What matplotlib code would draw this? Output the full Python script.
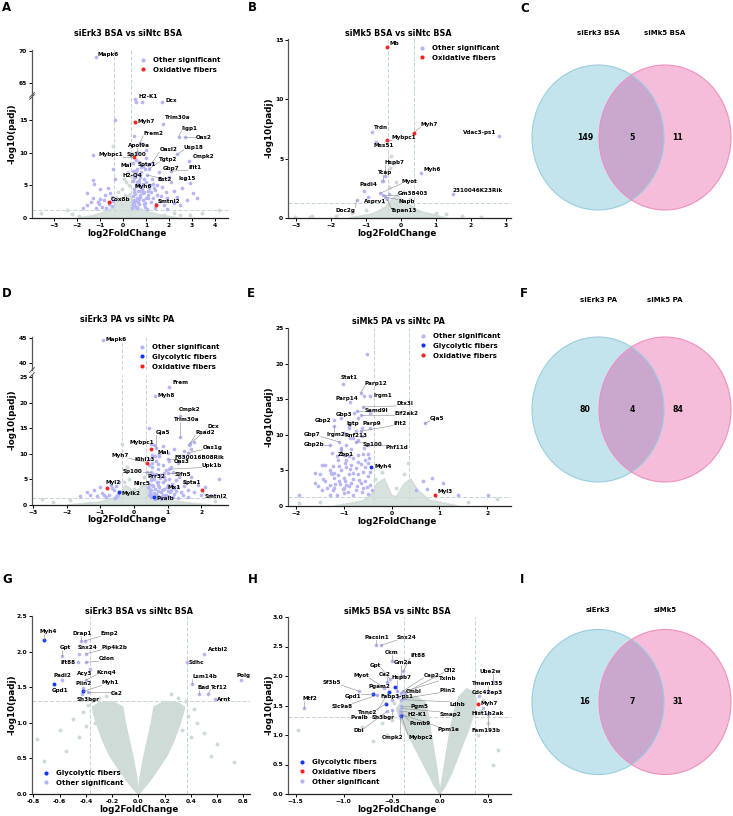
import math
import matplotlib
matplotlib.use('Agg')
import matplotlib.pyplot as plt
from matplotlib.patches import Ellipse
from matplotlib.lines import Line2D

plt.rcParams['font.family'] = ['DejaVu Sans']
plt.rcParams['font.weight'] = 'bold'
plt.rcParams['axes.labelweight'] = 'bold'

# ---------------------------------------------------------------- data
# Panel A : siErk3 BSA vs siNtc BSA   (name, log2FC, -log10 padj, class)
A_GENES = [
    ('Mapk6', -1.17, 69.1, 'o'), ('H2-K1', 0.52, 18.3, 'o'), ('Dcx', 1.71, 17.8, 'o'),
    ('Myh7', 0.52, 14.8, 'x'), ('Trim30a', 1.75, 14.5, 'o'), ('Iigp1', 2.43, 12.5, 'o'),
    ('Oas2', 2.72, 12.5, 'o'), ('Frem2', 0.74, 11.5, 'o'), ('Apol9a', 0.62, 10.0, 'o'),
    ('Oasl2', 1.25, 8.4, 'o'), ('Usp18', 2.37, 9.8, 'o'), ('Mybpc1', 0.48, 9.3, 'x'),
    ('Sp100', 0.56, 8.9, 'o'), ('Tgtp2', 1.15, 7.6, 'o'), ('Cmpk2', 2.87, 8.8, 'o'),
    ('Mal', 0.45, 7.3, 'o'), ('Spta1', 0.8, 7.8, 'o'), ('Gbp7', 1.55, 7.0, 'o'),
    ('Ifit1', 2.1, 7.2, 'o'), ('H2-Q4', 0.75, 6.3, 'o'), ('Bst2', 1.05, 6.6, 'o'),
    ('Isg15', 2.9, 5.4, 'o'), ('Myh6', 0.6, 5.5, 'o'), ('Cox8b', -0.61, 2.5, 'x'),
    ('Smtnl2', 1.42, 2.0, 'x'),
]
A_OTHER_X = [0.81, 0.57, 0.48, -0.35, -1.29, -0.42, -0.35, -1.29, -1.25, -1.55, -1.29, -1.0, -1.03,
             -0.74, -0.5, -0.57, -1.0, -0.83, -1.55, -1.17, -1.75, -0.45, -0.62, -0.9, -1.4,
             2.55, 3.06, 3.2, 2.2, 1.9, 2.7, 2.1, 1.6, 1.4, 1.1, 0.86, 0.95, 0.7, 0.52, 0.45, 0.74,
             0.96, 1.3, 1.6, 1.9, 2.2, 2.35, 1.4, 0.5, 0.6, 0.65, 0.8, 0.9, 1.0, 1.2, 1.25, 0.55,
             0.7, 1.0, 1.1, 0.9, 0.5, 0.6, 0.75, 1.15, 1.5, 1.7, 1.8, 2.0, 2.5, 2.8, 0.42, 0.6, 1.0,
             0.4, 1.05, 1.3, 1.5, 0.85, 0.55, 0.45, 0.62, 0.7, 0.88, 1.1, 0.5, 0.68, 0.58, 0.78,
             0.95, 1.2, 0.42, 0.52,
             0.45, 0.55, 0.65, 0.72, 0.82, 0.9, 1.0, 1.08, 1.18, 1.35, 0.48, 0.58, 0.68, 0.78,
             0.88, 0.5, 0.62, 1.45, 1.65, 1.85, -0.48, -0.66, -0.8, -1.1, -0.55]
A_OTHER_Y = [17.9, 17.8, 12.6, 15.0, 9.7, 7.6, 6.0, 5.85, 5.2, 3.8, 3.1, 2.85, 2.1,
             1.5, 1.8, 3.8, 4.4, 2.8, 2.05, 1.5, 1.6, 2.6, 2.2, 1.7, 2.5,
             4.6, 3.8, 3.1, 4.1, 3.1, 6.1, 5.5, 6.2, 4.3, 3.5, 2.7, 1.7, 2.2, 3.7, 5.7, 6.6,
             7.6, 5.3, 2.6, 1.4, 2.3, 3.2, 1.5, 2.1, 3.0, 4.2, 4.8, 4.0, 5.6, 2.4, 6.0, 6.8,
             8.6, 9.2, 8.2, 6.0, 4.5, 1.6, 3.3, 4.6, 3.6, 4.8, 2.0, 6.3, 2.0, 2.7, 8.5, 10.2, 10.5,
             1.5, 1.4, 3.0, 5.1, 5.2, 2.6, 3.4, 4.9, 5.4, 3.8, 3.0, 2.7, 2.9, 7.2, 4.1,
             2.3, 4.0, 2.4, 6.3,
             2.0, 1.7, 2.5, 3.6, 4.4, 2.2, 3.0, 4.2, 5.0, 4.6, 4.0, 5.0, 5.8, 7.0,
             8.0, 6.2, 7.6, 2.2, 3.4, 4.0, 3.2, 4.6, 3.6, 2.4, 2.4]
A_NS_X = [-3.56, -2.45, 4.2, 3.45, 2.9, 2.5, -1.9, -2.2, 1.8, 2.2, -0.05, 0.05, 0.2, -0.2, 0.3,
          -0.43, 0.1, -0.1, 0.25, 0.35, 0.38, -0.3, 0.15]
A_NS_Y = [0.7, 1.23, 1.2, 0.7, 0.5, 0.4, 0.3, 0.6, 0.5, 0.8, 4.5, 6.0, 7.0, 4.0, 8.5,
          11.0, 3.5, 2.8, 5.0, 6.5, 9.8, 3.2, 5.5]
A_CLOUD_X = [-1.9, -1.3, -0.8, -0.45, -0.25, -0.1, 0.0, 0.15, 0.3, 0.4, 0.6, 1.0, 1.6, 2.4]
A_CLOUD_Y = [0.0, 0.4, 0.9, 1.6, 2.6, 3.2, 1.8, 3.0, 3.8, 3.0, 1.8, 1.0, 0.5, 0.0]

# Panel B : siMk5 BSA vs siNtc BSA
B_GENES = [
    ('Mb', -0.41, 14.36, 'x'), ('Trdn', -0.84, 7.23, 'o'), ('Mybpc1', -0.41, 6.6, 'x'),
    ('Myh7', 0.38, 7.18, 'x'), ('Mss51', -0.72, 6.4, 'o'), ('Vdac3-ps1', 2.8, 6.87, 'o'),
    ('Hspb7', -0.46, 3.5, 'o'), ('Tcap', -0.52, 3.1, 'o'), ('Myh6', 0.57, 3.8, 'o'),
    ('Myot', -0.6, 2.07, 'o'), ('Padi4', -1.05, 2.26, 'o'), ('Gm38403', -0.5, 1.95, 'o'),
    ('Asprv1', -0.93, 1.79, 'o'), ('Napb', -0.45, 1.75, 'o'), ('Doc2g', -1.27, 1.51, 'o'),
    ('Tspan13', -0.4, 1.6, 'o'), ('2310046K23Rik', 1.5, 1.98, 'o'),
]
B_OTHER_X = [-0.55, -0.35]
B_OTHER_Y = [3.15, 2.0]
B_NS_X = [-3.03, -2.6, -2.55, -1.85, -1.4, 1.3, 1.75, 2.3, -0.3, -0.2, -0.28, 0.5, 1.0, -1.0,
          -0.15, 0.1, -0.35, 0.25]
B_NS_Y = [0.05, 0.1, 0.2, 0.15, 0.4, 0.3, 0.15, 0.1, 4.2, 4.6, 5.2, 0.6, 0.4, 0.7,
          3.0, 2.2, 2.6, 1.6]
B_CLOUD_X = [-1.5, -0.8, -0.45, -0.25, -0.1, 0.05, 0.2, 0.5, 0.9, 1.3]
B_CLOUD_Y = [0.0, 0.35, 0.9, 1.6, 2.0, 1.4, 1.2, 0.6, 0.3, 0.0]

# Panel D : siErk3 PA vs siNtc PA
D_GENES = [
    ('Mapk6', -0.93, 44.7, 'o'), ('Frem', 1.05, 23.1, 'o'), ('Myh8', 0.61, 21.3, 'o'),
    ('Cmpk2', 1.37, 17.4, 'o'), ('Trim30a', 1.37, 13.3, 'o'), ('Gja5', 0.66, 11.1, 'o'),
    ('Dcx', 1.67, 12.0, 'o'), ('Rsad2', 1.64, 11.7, 'o'), ('Oas1g', 1.62, 10.2, 'o'),
    ('Mybpc1', 0.51, 10.9, 'x'), ('Myh7', 0.4, 8.3, 'x'), ('Klhl13', 0.55, 8.2, 'o'),
    ('Mal', 0.62, 9.5, 'o'), ('F830016B08Rik', 1.0, 8.9, 'o'), ('Oas3', 1.05, 8.5, 'o'),
    ('Upk1b', 1.05, 7.0, 'o'), ('Sp100', 0.5, 6.5, 'o'), ('Prr32', 0.7, 4.5, 'o'),
    ('Slfn5', 1.0, 6.2, 'o'), ('Nlrc5', 0.45, 3.3, 'o'), ('Spta1', 1.5, 3.7, 'o'),
    ('Mx1', 1.0, 2.8, 'o'), ('Smtnl2', 2.02, 2.9, 'x'), ('Myl2', -0.82, 3.26, 'x'),
    ('Mylk2', -0.44, 2.6, 'g'), ('Pvalb', 0.6, 1.6, 'g'),
]
D_OTHER_X = [-1.4, -1.2, -1.0, -0.95, -0.75, -0.6, -0.55, -0.5, -0.45, -1.6, -1.1, -0.85, -0.65, -1.3,
             -0.7, 0.45, 0.5, 0.55, 0.6, 0.65, 0.7, 0.75, 0.8, 0.85, 0.9, 0.95, 1.0, 1.05, 1.1, 1.15,
             1.2, 1.25, 1.3, 1.35, 1.4, 1.5, 1.6, 1.7, 1.8, 1.9, 2.1, 2.54, 2.3, 0.5, 0.6, 0.7, 0.8,
             0.9, 1.0, 0.55, 0.65, 0.75, 0.85, 0.95, 1.1, 1.3, 1.45, 1.5, 1.8, 1.7, 0.5, 0.45, 0.75,
             0.6, 0.85, 1.0, 1.2, 0.45, 0.5, 0.45, 0.7, 0.9, 1.15, 1.6, 1.25, 2.0, 0.4, 0.58, 0.68,
             0.78, 0.88,
             0.42, 0.48, 0.52, 0.58, 0.62, 0.66, 0.72, 0.76, 0.82, 0.86, 0.92, 0.98, 1.06, 1.12,
             1.18, 0.44, 0.54, 0.7, 0.5, 0.62, 0.8, 1.3, 1.45, -0.48, -0.58, -0.9]
D_OTHER_Y = [2.6, 3.0, 3.5, 2.3, 2.0, 2.9, 3.8, 1.7, 4.5, 1.8, 1.7, 1.5, 3.3, 2.0,
             4.0, 2.0, 3.0, 4.0, 5.0, 6.0, 7.0, 3.5, 2.5, 4.5, 5.5, 2.0, 4.0, 5.0, 3.0, 6.5,
             2.2, 4.8, 3.5, 5.5, 2.5, 4.5, 3.0, 5.5, 2.5, 4.0, 3.5, 5.0, 2.0, 1.5, 2.3, 1.8, 1.5,
             3.2, 1.7, 7.5, 8.5, 9.5, 7.8, 6.8, 7.5, 8.2, 9.5, 10.5, 12.3, 11.0, 12.0, 15.0, 10.0,
             11.8, 11.5, 10.2, 11.0, 9.0, 5.5, 4.2, 2.8, 1.3, 1.5, 1.6, 2.7, 2.0, 6.5, 3.8, 4.4,
             5.2, 6.3,
             3.5, 2.6, 4.8, 6.0, 3.2, 2.1, 4.0, 5.8, 3.0, 2.0, 4.8, 3.6, 2.5, 4.2,
             3.4, 7.8, 9.8, 8.0, 1.9, 1.2, 1.1, 1.3, 2.0, 2.2, 1.4, 1.9]
D_NS_X = [-2.75, -2.4, -0.36, -0.2, 0.1, 2.4, -1.9, -1.3, -0.3, 0.3, -0.15, 0.2, 0.0]
D_NS_Y = [1.2, 0.5, 12.0, 7.5, 6.8, 0.8, 0.9, 0.4, 4.5, 5.5, 5.0, 3.8, 3.2]
D_CLOUD_X = [-2.0, -1.0, -0.6, -0.4, -0.25, -0.1, 0.0, 0.15, 0.3, 0.45, 0.7, 1.5, 2.3]
D_CLOUD_Y = [0.0, 0.6, 1.4, 2.6, 3.8, 3.2, 2.4, 3.2, 4.0, 2.8, 1.2, 0.5, 0.0]

# Panel E : siMk5 PA vs siNtc PA
E_GENES = [
    ('Stat1', -1.02, 17.1, 'o'), ('Parp12', -0.65, 15.85, 'o'), ('Irgm1', -0.46, 15.5, 'o'),
    ('Parp14', -0.88, 14.6, 'o'), ('Dtx3l', -0.6, 13.9, 'o'), ('Samd9l', -0.72, 13.4, 'o'),
    ('Gbp3', -1.05, 12.3, 'o'), ('Eif2ak2', -0.65, 12.8, 'o'), ('Gja5', 0.69, 11.6, 'o'),
    ('Gbp2', -1.21, 12.1, 'o'), ('Igtp', -0.9, 11.0, 'o'), ('Parp9', -0.62, 11.0, 'o'),
    ('Ifit2', -0.65, 10.5, 'o'), ('Gbp7', -1.1, 9.0, 'o'), ('Irgm2', -1.2, 11.3, 'o'),
    ('Rnf213', -0.8, 9.5, 'o'), ('Gbp2b', -1.3, 8.5, 'o'), ('Sp100', -0.75, 9.0, 'o'),
    ('Phf11d', -0.5, 8.5, 'o'), ('Zbp1', -1.05, 8.2, 'o'), ('Myh4', -0.43, 5.5, 'g'),
    ('Myl3', 0.91, 1.55, 'x'),
]
E_OTHER_X = [-0.51, -0.58, -1.13, -1.25, -1.0, -0.9, -0.8, -0.7, -0.6, -0.55, -0.5, -0.65, -0.85,
             -0.95, -1.1, -1.3, -1.45, -1.5, -1.4, -1.55, -1.45, -1.3, -1.2, -1.1, -1.0, -0.9, -0.8,
             -0.7, -0.6, -0.55, -0.5, -0.45, -0.42, -0.6, -0.75, -0.9, -1.0, -1.15, -1.3, -0.8, -0.5,
             -1.93, -1.6, -1.25, -1.05, -0.75, -0.65, -0.85, -0.95, -1.2, -0.55, -0.48, -0.5, -0.7,
             -0.95, -1.05, -0.85, -0.62, -0.75, -1.0, -0.7, -0.9, -0.45, -0.45, -0.78, -1.39, -1.27,
             -1.2, -1.44, -1.08, -0.97, -1.01, -1.22,
             -0.45, -0.52, -0.62, -0.72, -0.68, -0.8, -0.88, -0.98, -1.12, -1.18, -1.35, -1.0,
             -0.92, -1.22, -1.6, -0.58, -0.7, -0.88, -0.95, -1.15,
             0.65, 0.74, 1.07, 0.52, 1.4, 2.01, 0.85]
E_OTHER_Y = [21.4, 15.5, 6.5, 7.5, 7.2, 7.0, 6.8, 7.1, 7.3, 6.5, 6.0, 5.9, 5.8,
             5.5, 5.6, 5.1, 5.7, 4.5, 3.5, 2.8, 2.2, 3.0, 2.5, 3.5, 4.0, 4.5, 3.8,
             4.5, 4.8, 3.5, 4.2, 3.0, 2.2, 2.5, 2.2, 2.8, 1.8, 1.6, 1.5, 1.6, 1.7,
             1.6, 4.6, 4.5, 5.0, 5.3, 3.2, 3.3, 3.0, 3.9, 5.5, 6.8, 7.3, 6.2,
             6.4, 7.8, 8.0, 9.8, 10.6, 10.3, 12.3, 11.3, 11.0, 13.0, 13.0, 5.7, 4.6,
             4.6, 3.8, 3.1, 3.5, 2.4, 2.2,
             4.8, 2.6, 1.9, 2.8, 3.7, 4.6, 5.2, 6.0, 4.3, 3.1, 2.5, 2.5,
             2.0, 5.6, 3.3, 8.2, 9.2, 9.5, 8.6, 7.0,
             3.5, 2.4, 3.3, 2.2, 1.55, 1.55, 3.9]
E_NS_X = [-1.95, -1.5, 1.6, 2.2, 0.35, -0.3, -0.2, 0.25, -0.35, 0.1]
E_NS_Y = [0.4, 0.5, 0.5, 1.0, 6.0, 5.8, 4.8, 4.5, 3.8, 2.5]
E_CLOUD_X = [-1.2, -0.6, -0.4, -0.3, -0.15, 0.0, 0.1, 0.25, 0.4, 0.55, 0.8, 1.4]
E_CLOUD_Y = [0.0, 0.7, 1.8, 3.2, 3.8, 1.5, 1.3, 3.0, 3.8, 2.2, 0.8, 0.0]

# Panel G : siErk3 BSA vs siNtc BSA (fiber genes)
G_GENES = [
    ('Myh4', -0.72, 2.16, 'g'), ('Drap1', -0.44, 2.15, 'o'), ('Emp2', -0.41, 2.15, 'o'),
    ('Gpt', -0.58, 1.94, 'o'), ('Snx24', -0.45, 1.97, 'o'), ('Pip4k2b', -0.4, 1.97, 'o'),
    ('Ift88', -0.46, 1.85, 'o'), ('Cdon', -0.4, 1.85, 'o'), ('Sdhc', 0.37, 1.85, 'o'),
    ('Actbl2', 0.5, 1.97, 'o'), ('Acy3', -0.37, 1.75, 'o'), ('Kcnq4', -0.4, 1.6, 'o'),
    ('Padi2', -0.58, 1.6, 'o'), ('Polg', 0.78, 1.6, 'o'), ('Lsm14b', 0.41, 1.54, 'o'),
    ('Gpd1', -0.64, 1.54, 'g'), ('Plin2', -0.42, 1.49, 'o'), ('Myh1', -0.42, 1.44, 'g'),
    ('Bad', 0.46, 1.4, 'o'), ('Tcf12', 0.53, 1.4, 'o'), ('Ca2', -0.38, 1.43, 'o'),
    ('Sh3bgr', -0.43, 1.4, 'o'), ('Arnt', 0.58, 1.33, 'o'),
]
G_NS_X = [-0.77, -0.72, 0.73, 0.55, -0.5, -0.45, 0.45, 0.5, 0.42, -0.42, -0.38, 0.36, 0.3, -0.3,
          -0.25, -0.55, 0.6, -0.6, 0.25, -0.2, 0.38, -0.35, -0.4, 0.4, -0.33, 0.33, -0.28, 0.28]
G_NS_Y = [0.77, 0.47, 0.45, 0.53, 1.05, 0.8, 1.0, 0.85, 1.2, 1.15, 1.25, 1.3, 1.35, 1.35,
          1.38, 0.6, 0.7, 0.9, 1.4, 1.42, 1.1, 1.3, 0.95, 0.8, 1.0, 0.9, 1.2, 1.15]
G_LEFT_ARM_X = [0, -0.05, -0.1, -0.16, -0.22, -0.27, -0.31, -0.34, -0.35, -0.3, -0.2, -0.12,
                -0.1, -0.07, -0.04, -0.02, -0.005]
G_LEFT_ARM_Y = [0, 0.1, 0.22, 0.38, 0.55, 0.75, 0.95, 1.13, 1.22, 1.28, 1.3, 1.22,
                1.0, 0.75, 0.5, 0.3, 0.1]
G_RIGHT_ARM_X = [0, 0.05, 0.1, 0.16, 0.22, 0.27, 0.31, 0.34, 0.35, 0.3, 0.2, 0.12,
                 0.1, 0.07, 0.04, 0.02, 0.005]
G_RIGHT_ARM_Y = [0, 0.1, 0.22, 0.38, 0.55, 0.75, 0.95, 1.13, 1.22, 1.28, 1.3, 1.22,
                 1.0, 0.75, 0.5, 0.3, 0.1]

# Panel H : siMk5 BSA vs siNtc BSA (fiber genes)
H_GENES = [
    ('Pacsin1', -0.66, 2.52, 'o'), ('Snx24', -0.61, 2.52, 'o'), ('Ckm', -0.5, 2.25, 'o'),
    ('Ift88', -0.38, 2.08, 'o'), ('Gm2a', -0.4, 2.0, 'o'), ('Gpt', -0.52, 1.95, 'o'),
    ('Myot', -0.58, 1.8, 'o'), ('Ca2', -0.55, 1.9, 'o'), ('Hspb7', -0.45, 1.75, 'o'),
    ('Cap2', -0.38, 1.75, 'o'), ('Cfl2', -0.36, 1.72, 'o'), ('Txlnb', -0.4, 1.72, 'o'),
    ('Sf3b5', -0.84, 1.74, 'o'), ('Pgam2', -0.47, 1.82, 'g'), ('Cmbl', -0.44, 1.65, 'o'),
    ('Plin2', -0.37, 1.62, 'o'), ('Gpd1', -0.7, 1.69, 'g'), ('Fabp3-ps1', -0.5, 1.6, 'o'),
    ('Slc9a8', -0.65, 1.68, 'o'), ('Ldhb', -0.4, 1.6, 'o'), ('Mtf2', -1.41, 1.45, 'o'),
    ('Pgm5', -0.4, 1.5, 'o'), ('Tnnc2', -0.53, 1.73, 'g'), ('Pvalb', -0.56, 1.53, 'g'),
    ('Sh3bgr', -0.5, 1.42, 'o'), ('Smap2', -0.4, 1.45, 'o'), ('H2-K1', -0.41, 1.4, 'o'),
    ('Psmb9', -0.4, 1.38, 'o'), ('Ppm1e', -0.4, 1.35, 'o'), ('Dbi', -0.55, 1.4, 'o'),
    ('Cmpk2', -0.42, 1.36, 'o'), ('Mybpc2', -0.4, 1.32, 'g'), ('Myh7', 0.4, 1.53, 'x'),
    ('Ube2w', 0.55, 1.9, 'o'), ('Tmem135', 0.5, 1.75, 'o'), ('Cdc42ep3', 0.41, 1.66, 'o'),
    ('Hist1h2ak', 0.45, 1.45, 'o'), ('Fam193b', 0.5, 1.35, 'o'),
]
H_NS_X = [-1.48, -0.81, 0.6, -0.6, -0.55, 0.45, 0.5, -0.7, 0.55, -0.48, 0.42, -0.5, 0.4]
H_NS_Y = [1.08, 1.13, 0.75, 1.2, 1.0, 1.6, 1.2, 0.9, 0.5, 1.55, 1.4, 1.25, 1.0]
H_LEFT_ARM_X = [0, -0.06, -0.12, -0.2, -0.28, -0.36, -0.42, -0.45, -0.38, -0.25, -0.15, -0.12,
                -0.09, -0.06, -0.03, -0.01]
H_LEFT_ARM_Y = [0, 0.15, 0.35, 0.6, 0.85, 1.1, 1.3, 1.45, 1.6, 1.65, 1.55, 1.3,
                1.0, 0.7, 0.4, 0.15]
H_RIGHT_ARM_X = [0, 0.06, 0.12, 0.18, 0.24, 0.3, 0.35, 0.38, 0.36, 0.28, 0.2, 0.15,
                 0.11, 0.08, 0.05, 0.02]
H_RIGHT_ARM_Y = [0, 0.15, 0.35, 0.6, 0.85, 1.1, 1.35, 1.55, 1.72, 1.78, 1.65, 1.4,
                 1.1, 0.8, 0.5, 0.2]

# Venn counts (left only, shared, right only)
VENN_C = (149, 5, 11)
VENN_F = (80, 4, 84)
VENN_I = (16, 7, 31)
VENN_C_SETS = ('siErk3 BSA', 'siMk5 BSA')
VENN_F_SETS = ('siErk3 PA', 'siMk5 PA')
VENN_I_SETS = ('siErk3', 'siMk5')

FC_CUT = 0.37
P_CUT = 1.3

# ---------------------------------------------------------------- layout (label placement)
A_LAB = {
    'Mapk6': (-1.10, 69.4, 'left'), 'H2-K1': (0.67, 18.6, 'left'), 'Dcx': (1.86, 18.1, 'left'),
    'Myh7': (0.62, 14.8, 'left'), 'Trim30a': (1.83, 15.5, 'left'), 'Iigp1': (2.55, 13.8, 'left'),
    'Oas2': (3.17, 12.35, 'left'), 'Frem2': (0.88, 13.0, 'left'), 'Apol9a': (0.2, 11.1, 'left'),
    'Oasl2': (1.58, 10.5, 'left'), 'Usp18': (2.65, 10.9, 'left'), 'Mybpc1': (-1.07, 9.7, 'left'),
    'Sp100': (0.16, 9.7, 'left'), 'Tgtp2': (1.58, 9.0, 'left'), 'Cmpk2': (3.03, 9.4, 'left'),
    'Mal': (-0.13, 8.05, 'left'), 'Spta1': (0.64, 8.25, 'left'), 'Gbp7': (1.72, 7.6, 'left'),
    'Ifit1': (2.84, 7.75, 'left'), 'H2-Q4': (-0.01, 6.6, 'left'), 'Bst2': (1.51, 5.85, 'left'),
    'Isg15': (2.4, 6.0, 'left'), 'Myh6': (0.48, 4.8, 'left'), 'Cox8b': (-0.52, 2.9, 'left'),
    'Smtnl2': (1.51, 2.5, 'left'),
}
B_LAB = {
    'Mb': (-0.33, 14.7, 'left'), 'Trdn': (-0.76, 7.65, 'left'), 'Mybpc1': (-0.26, 6.8, 'left'),
    'Myh7': (0.56, 7.85, 'left'), 'Mss51': (-0.77, 6.06, 'left'), 'Vdac3-ps1': (2.72, 7.2, 'right'),
    'Hspb7': (-0.46, 4.67, 'left'), 'Tcap': (-0.65, 3.83, 'left'), 'Myh6': (0.65, 4.08, 'left'),
    'Myot': (0.02, 3.1, 'left'), 'Padi4': (-1.18, 2.8, 'left'), 'Gm38403': (-0.08, 2.04, 'left'),
    'Asprv1': (-1.06, 1.4, 'left'), 'Napb': (-0.08, 1.35, 'left'), 'Doc2g': (-1.87, 0.67, 'left'),
    'Tspan13': (-0.27, 0.59, 'left'), '2310046K23Rik': (1.47, 2.35, 'left'),
}
D_LAB = {
    'Mapk6': (-0.85, 44.8, 'left'), 'Frem': (1.14, 24.0, 'left'), 'Myh8': (0.7, 21.3, 'left'),
    'Cmpk2': (1.32, 18.7, 'left'), 'Trim30a': (1.2, 16.7, 'left'), 'Gja5': (0.66, 14.1, 'left'),
    'Dcx': (2.18, 15.3, 'left'), 'Rsad2': (1.82, 14.1, 'left'), 'Oas1g': (2.04, 11.3, 'left'),
    'Mybpc1': (-0.12, 12.2, 'left'), 'Myh7': (-0.67, 9.6, 'left'), 'Klhl13': (0.0, 8.9, 'left'),
    'Mal': (0.71, 10.2, 'left'), 'F830016B08Rik': (1.22, 9.25, 'left'), 'Oas3': (1.17, 8.45, 'left'),
    'Upk1b': (2.02, 7.8, 'left'), 'Sp100': (-0.33, 6.6, 'left'), 'Prr32': (0.41, 5.5, 'left'),
    'Slfn5': (1.21, 5.9, 'left'), 'Nlrc5': (-0.02, 4.2, 'left'), 'Spta1': (1.45, 4.4, 'left'),
    'Mx1': (1.0, 3.45, 'left'), 'Smtnl2': (2.1, 1.6, 'left'), 'Myl2': (-0.85, 4.3, 'left'),
    'Mylk2': (-0.38, 2.2, 'left'), 'Pvalb': (0.66, 1.3, 'left'),
}
E_LAB = {
    'Stat1': (-1.07, 18.05, 'left'), 'Parp12': (-0.56, 17.25, 'left'), 'Irgm1': (-0.38, 15.5, 'left'),
    'Parp14': (-1.18, 15.05, 'left'), 'Dtx3l': (0.1, 14.4, 'left'), 'Samd9l': (-0.57, 13.4, 'left'),
    'Gbp3': (-1.17, 12.9, 'left'), 'Eif2ak2': (0.05, 13.05, 'left'), 'Gja5': (0.8, 12.3, 'left'),
    'Gbp2': (-1.27, 12.0, 'right'), 'Igtp': (-0.95, 11.6, 'left'), 'Parp9': (-0.6, 11.6, 'left'),
    'Ifit2': (0.03, 11.65, 'left'), 'Gbp7': (-1.83, 10.1, 'left'), 'Irgm2': (-1.36, 10.1, 'left'),
    'Rnf213': (-0.98, 9.9, 'left'), 'Gbp2b': (-1.85, 8.6, 'left'), 'Sp100': (-0.6, 8.6, 'left'),
    'Phf11d': (-0.13, 8.25, 'left'), 'Zbp1': (-1.13, 7.2, 'left'), 'Myh4': (-0.35, 5.5, 'left'),
    'Myl3': (0.97, 2.1, 'left'),
}
G_LAB = {
    'Myh4': (-0.75, 2.28, 'left'), 'Drap1': (-0.5, 2.25, 'left'), 'Emp2': (-0.29, 2.25, 'left'),
    'Gpt': (-0.6, 2.06, 'left'), 'Snx24': (-0.46, 2.06, 'left'), 'Pip4k2b': (-0.28, 2.06, 'left'),
    'Ift88': (-0.48, 1.85, 'right'), 'Cdon': (-0.3, 1.9, 'left'), 'Sdhc': (0.38, 1.85, 'left'),
    'Actbl2': (0.53, 2.03, 'left'), 'Acy3': (-0.47, 1.69, 'left'), 'Kcnq4': (-0.32, 1.71, 'left'),
    'Padi2': (-0.65, 1.67, 'left'), 'Polg': (0.75, 1.67, 'left'), 'Lsm14b': (0.41, 1.65, 'left'),
    'Gpd1': (-0.66, 1.45, 'left'), 'Plin2': (-0.48, 1.55, 'left'), 'Myh1': (-0.28, 1.56, 'left'),
    'Bad': (0.45, 1.5, 'left'), 'Tcf12': (0.55, 1.5, 'left'), 'Ca2': (-0.21, 1.41, 'left'),
    'Sh3bgr': (-0.47, 1.33, 'left'), 'Arnt': (0.6, 1.33, 'left'),
}
H_LAB = {
    'Pacsin1': (-0.78, 2.65, 'left'), 'Snx24': (-0.45, 2.65, 'left'), 'Ckm': (-0.57, 2.4, 'left'),
    'Ift88': (-0.31, 2.35, 'left'), 'Gm2a': (-0.48, 2.23, 'left'), 'Gpt': (-0.73, 2.18, 'left'),
    'Myot': (-0.9, 2.01, 'left'), 'Ca2': (-0.64, 2.03, 'left'), 'Hspb7': (-0.5, 1.98, 'left'),
    'Cap2': (-0.17, 2.01, 'left'), 'Cfl2': (0.04, 2.1, 'left'), 'Txlnb': (-0.01, 1.96, 'left'),
    'Sf3b5': (-1.22, 1.89, 'left'), 'Pgam2': (-0.74, 1.83, 'left'), 'Cmbl': (-0.35, 1.73, 'left'),
    'Plin2': (0.0, 1.76, 'left'), 'Gpd1': (-0.82, 1.65, 'right'), 'Fabp3-ps1': (-0.62, 1.65, 'left'),
    'Slc9a8': (-1.13, 1.49, 'left'), 'Ldhb': (0.1, 1.52, 'left'), 'Mtf2': (-1.43, 1.62, 'left'),
    'Pgm5': (-0.31, 1.49, 'left'), 'Tnnc2': (-0.85, 1.38, 'left'), 'Pvalb': (-0.93, 1.3, 'left'),
    'Sh3bgr': (-0.71, 1.3, 'left'), 'Smap2': (0.0, 1.35, 'left'), 'H2-K1': (-0.34, 1.35, 'left'),
    'Psmb9': (-0.32, 1.2, 'left'), 'Ppm1e': (-0.02, 1.1, 'left'), 'Dbi': (-0.9, 1.07, 'left'),
    'Cmpk2': (-0.6, 0.96, 'left'), 'Mybpc2': (-0.33, 0.96, 'left'), 'Myh7': (0.42, 1.53, 'left'),
    'Ube2w': (0.41, 2.08, 'left'), 'Tmem135': (0.33, 1.87, 'left'), 'Cdc42ep3': (0.33, 1.72, 'left'),
    'Hist1h2ak': (0.33, 1.37, 'left'), 'Fam193b': (0.33, 1.08, 'left'),
}

# ---------------------------------------------------------------- style
W, H = 733, 816
fig = plt.figure(figsize=(W / 100, H / 100), dpi=100)

C_NS = '#cfdbd6'
C_OTHER = '#b6b6f7'
C_GLY = '#1538ff'
C_OXI = '#ff1f1f'
C_DASH = '#c3d2d2'
CLS_COLOR = {'o': C_OTHER, 'g': C_GLY, 'x': C_OXI}
FS_TICK = 4.3
FS_GENE = 4.1
FS_AX = 6.3
FS_TITLE = 5.8
FS_LEG = 5.0
FS_PANEL = 8.5

V_LEFT = '#c4e4ed'
V_RIGHT = '#f6bdda'
V_MID = '#caa8cd'
V_LEFT_EDGE = '#98cde0'
V_RIGHT_EDGE = '#ef8fc0'

LABEL_JOBS = []


def axes_px(x0, y0, x1, y1):
    return fig.add_axes([x0 / W, 1 - y1 / H, (x1 - x0) / W, (y1 - y0) / H])


def style_axes(ax, bottom=True):
    for s in ('top', 'right'):
        ax.spines[s].set_visible(False)
    ax.spines['left'].set_linewidth(0.9)
    ax.spines['left'].set_color('#555555')
    ax.spines['bottom'].set_linewidth(0.9)
    ax.spines['bottom'].set_color('#222222')
    if not bottom:
        ax.spines['bottom'].set_visible(False)
        ax.tick_params(axis='x', bottom=False, labelbottom=False)
    ax.tick_params(labelsize=FS_TICK, length=2.2, width=0.7, pad=1.2)


def draw_cloud(ax, xs_list, ys_list, nsx, nsy, alpha=1.0):
    for xs, ys in zip(xs_list, ys_list):
        ax.fill(xs, ys, color=C_NS, lw=1.2, ec=C_NS, alpha=alpha, zorder=1)
    ax.scatter(nsx, nsy, s=8, color=C_NS, lw=0, zorder=1.2)


def draw_sig(ax, genes, ox=(), oy=()):
    if len(ox):
        ax.scatter(ox, oy, s=7, color=C_OTHER, lw=0, zorder=3)
    for cls in ('o', 'g', 'x'):
        gx = [g[1] for g in genes if g[3] == cls]
        gy = [g[2] for g in genes if g[3] == cls]
        if gx:
            ax.scatter(gx, gy, s=8 if cls != 'o' else 7, color=CLS_COLOR[cls], lw=0,
                       zorder=3.5 if cls != 'o' else 3)


def draw_thresholds(ax, hline=True):
    for v in (-FC_CUT, FC_CUT):
        ax.axvline(v, color=C_DASH, lw=0.7, ls=(0, (4, 2)), zorder=0.5)
    if hline:
        ax.axhline(P_CUT, color=C_DASH, lw=0.7, ls=(0, (4, 2)), zorder=0.5)


def put_labels(ax, genes, lab, ymin=-1e9, ymax=1e9):
    for name, x, y, cls in genes:
        if name not in lab:
            continue
        tx, ty, ha = lab[name]
        if not (ymin <= ty <= ymax):
            continue
        t = ax.text(tx, ty, name, fontsize=FS_GENE, fontweight='bold', ha=ha, va='center',
                    zorder=6, clip_on=False)
        LABEL_JOBS.append((ax, t, x, y))


def legend(ax, items, x, y, spacing=0.55):
    handles = [Line2D([], [], ls='none', marker='o', ms=3.0, mec='none', mfc=c, label=l)
               for l, c in items]
    ax.legend(handles=handles, loc='upper left', bbox_to_anchor=(x / W, 1 - y / H),
              bbox_transform=fig.transFigure, frameon=False, fontsize=FS_LEG,
              handlelength=1.0, handletextpad=0.9, labelspacing=spacing, borderpad=0,
              borderaxespad=0)


def break_marks(ax_top, ax_bot):
    kw = dict(color='#555555', lw=0.7, clip_on=False)
    d = 0.012
    for ax, yy in ((ax_top, 0.0), (ax_bot, 1.0)):
        tr = ax.transAxes
        bb = ax.get_position()
        dy = d * (W / H) * bb.width / bb.height
        ax.plot([-d, d], [yy - dy, yy + dy], transform=tr, **kw)


def panel_letter(ch, x, y):
    fig.text(x / W, 1 - y / H, ch, fontsize=FS_PANEL, fontweight='bold', ha='left', va='top')


def fig_title(s, xc, yc):
    fig.text(xc / W, 1 - yc / H, s, fontsize=FS_TITLE, fontweight='bold', ha='center', va='center')


def fig_xlabel(xc, yc):
    fig.text(xc / W, 1 - yc / H, 'log2FoldChange', fontsize=FS_AX, fontweight='bold',
             ha='center', va='center')


def fig_ylabel(xc, yc):
    fig.text(xc / W, 1 - yc / H, '-log10(padj)', fontsize=FS_AX, fontweight='bold',
             ha='center', va='center', rotation=90)


# ---------------------------------------------------------------- A (broken axis)
axA1 = axes_px(32, 50, 228, 95)
axA2 = axes_px(32, 97, 228, 218)
for ax in (axA1, axA2):
    draw_cloud(ax, [A_CLOUD_X], [A_CLOUD_Y], A_NS_X, A_NS_Y, alpha=0.8)
    draw_sig(ax, A_GENES, A_OTHER_X, A_OTHER_Y)
    draw_thresholds(ax, hline=(ax is axA2))
    ax.set_xlim(-3.96, 4.57)
style_axes(axA1, bottom=False)
style_axes(axA2)
axA1.set_ylim(63.1, 70.15)
axA1.set_yticks([65, 70])
axA2.set_ylim(0, 18.6)
axA2.set_yticks([0, 5, 10, 15])
axA2.set_xticks([-3, -2, -1, 0, 1, 2, 3, 4])
put_labels(axA1, A_GENES, A_LAB, 60, 80)
put_labels(axA2, A_GENES, A_LAB, -5, 60)
break_marks(axA1, axA2)
legend(axA1, [('Other significant', C_OTHER), ('Oxidative fibers', C_OXI)], 140, 57)
fig_title('siErk3 BSA vs siNtc BSA', 128, 33)
fig_xlabel(127, 233)
fig_ylabel(12, 134)

# ---------------------------------------------------------------- B
axB = axes_px(288, 39, 511, 218)
draw_cloud(axB, [B_CLOUD_X], [B_CLOUD_Y], B_NS_X, B_NS_Y, alpha=0.8)
draw_sig(axB, B_GENES, B_OTHER_X, B_OTHER_Y)
draw_thresholds(axB)
style_axes(axB)
axB.set_xlim(-3.23, 3.15)
axB.set_ylim(0, 15.05)
axB.set_xticks([-3, -2, -1, 0, 1, 2, 3])
axB.set_yticks([0, 5, 10, 15])
put_labels(axB, B_GENES, B_LAB)
legend(axB, [('Other significant', C_OTHER), ('Oxidative fibers', C_OXI)], 419, 45)
fig_title('siMk5 BSA vs siNtc BSA', 398, 33)
fig_xlabel(397, 233)
fig_ylabel(269, 128)

# ---------------------------------------------------------------- D (broken axis)
axD1 = axes_px(32, 337, 228, 370)
axD2 = axes_px(32, 375, 228, 505)
for ax in (axD1, axD2):
    draw_cloud(ax, [D_CLOUD_X], [D_CLOUD_Y], D_NS_X, D_NS_Y, alpha=0.8)
    draw_sig(ax, D_GENES, D_OTHER_X, D_OTHER_Y)
    draw_thresholds(ax, hline=(ax is axD2))
    ax.set_xlim(-3.04, 2.8)
style_axes(axD1, bottom=False)
style_axes(axD2)
axD1.set_ylim(38.6, 45.2)
axD1.set_yticks([40, 45])
axD2.set_ylim(0, 25.4)
axD2.set_yticks([0, 5, 10, 15, 20, 25])
axD2.set_xticks([-3, -2, -1, 0, 1, 2])
put_labels(axD1, D_GENES, D_LAB, 30, 60)
put_labels(axD2, D_GENES, D_LAB, -5, 30)
break_marks(axD1, axD2)
legend(axD1, [('Other significant', C_OTHER), ('Glycolytic fibers', C_GLY),
              ('Oxidative fibers', C_OXI)], 139, 344)
fig_title('siErk3 PA vs siNtc PA', 127, 320)
fig_xlabel(127, 520)
fig_ylabel(12, 420)

# ---------------------------------------------------------------- E
axE = axes_px(288, 328, 511, 506)
draw_cloud(axE, [E_CLOUD_X], [E_CLOUD_Y], E_NS_X, E_NS_Y, alpha=0.8)
draw_sig(axE, E_GENES, E_OTHER_X, E_OTHER_Y)
draw_thresholds(axE)
style_axes(axE)
axE.set_xlim(-2.17, 2.5)
axE.set_ylim(0, 25)
axE.set_xticks([-2, -1, 0, 1, 2])
axE.set_yticks([0, 5, 10, 15, 20, 25])
put_labels(axE, E_GENES, E_LAB)
legend(axE, [('Other significant', C_OTHER), ('Glycolytic fibers', C_GLY),
             ('Oxidative fibers', C_OXI)], 420, 333)
fig_title('siMk5 PA vs siNtc PA', 398, 322)
fig_xlabel(397, 521)
fig_ylabel(269, 417)

# ---------------------------------------------------------------- G
axG = axes_px(32, 616, 250, 794)
draw_cloud(axG, [G_LEFT_ARM_X, G_RIGHT_ARM_X], [G_LEFT_ARM_Y, G_RIGHT_ARM_Y], G_NS_X, G_NS_Y)
draw_sig(axG, G_GENES)
draw_thresholds(axG)
style_axes(axG)
axG.set_xlim(-0.81, 0.85)
axG.set_ylim(0, 2.5)
axG.set_xticks([-0.8, -0.6, -0.4, -0.2, 0.0, 0.2, 0.4, 0.6, 0.8])
axG.set_yticks([0.0, 0.5, 1.0, 1.5, 2.0, 2.5])
axG.xaxis.set_major_formatter(matplotlib.ticker.FormatStrFormatter('%.1f'))
axG.yaxis.set_major_formatter(matplotlib.ticker.FormatStrFormatter('%.1f'))
put_labels(axG, G_GENES, G_LAB)
legend(axG, [('Glycolytic fibers', C_GLY), ('Other significant', C_OTHER)], 43, 770)
fig_title('siErk3 BSA vs siNtc BSA', 139, 611)
fig_xlabel(139, 809)
fig_ylabel(12, 705)

# ---------------------------------------------------------------- H
axH = axes_px(288, 617, 511, 794)
draw_cloud(axH, [H_LEFT_ARM_X, H_RIGHT_ARM_X], [H_LEFT_ARM_Y, H_RIGHT_ARM_Y], H_NS_X, H_NS_Y)
draw_sig(axH, H_GENES)
draw_thresholds(axH)
style_axes(axH)
axH.set_xlim(-1.58, 0.74)
axH.set_ylim(0, 3.0)
axH.set_xticks([-1.5, -1.0, -0.5, 0.0, 0.5])
axH.set_yticks([0.0, 0.5, 1.0, 1.5, 2.0, 2.5, 3.0])
axH.yaxis.set_major_formatter(matplotlib.ticker.FormatStrFormatter('%.1f'))
put_labels(axH, H_GENES, H_LAB)
legend(axH, [('Glycolytic fibers', C_GLY), ('Oxidative fibers', C_OXI),
             ('Other significant', C_OTHER)], 299, 759)
fig_title('siMk5 BSA vs siNtc BSA', 397, 611)
fig_xlabel(397, 809)
fig_ylabel(269, 705)


# ---------------------------------------------------------------- Venns
def venn(counts, names, yc, ylab):
    ax = axes_px(500, yc - 110, 733, yc + 100)
    ax.set_xlim(500, 733)
    ax.set_ylim(yc + 100, yc - 110)
    ax.axis('off')
    left = Ellipse((598, yc), 132, 145, fc=V_LEFT, ec='none', zorder=1)
    right = Ellipse((665, yc), 132, 145, fc=V_RIGHT, ec='none', zorder=2)
    ax.add_patch(left)
    ax.add_patch(right)
    mid = Ellipse((598, yc), 132, 145, fc=V_MID, ec='none', zorder=3)
    ax.add_patch(mid)
    mid.set_clip_path(right)
    ax.add_patch(Ellipse((598, yc), 132, 145, fc='none', ec=V_LEFT_EDGE, lw=0.8, zorder=4))
    ax.add_patch(Ellipse((665, yc), 132, 145, fc='none', ec=V_RIGHT_EDGE, lw=0.8, zorder=4))
    for xx, n in zip((585, 632, 678), counts):
        ax.text(xx, yc, str(n), fontsize=5.6, fontweight='bold', ha='center', va='center',
                zorder=5)
    for xx, nm in zip((598, 665), names):
        ax.text(xx, ylab, nm, fontsize=5.0, fontweight='bold', ha='center', va='center')


venn(VENN_C, VENN_C_SETS, 137.5, 33)
venn(VENN_F, VENN_F_SETS, 409.5, 300)
venn(VENN_I, VENN_I_SETS, 702, 610)

for ch, x, y in (('A', 2, 1), ('B', 248, 1), ('C', 520, 2), ('D', 2, 287), ('E', 247, 287),
                 ('F', 520, 287), ('G', 2, 573), ('H', 248, 573), ('I', 520, 573)):
    panel_letter(ch, x, y)

# ---------------------------------------------------------------- leader lines
fig.canvas.draw()
r = fig.canvas.get_renderer()
for ax, t, x, y in LABEL_JOBS:
    bb = t.get_window_extent(r)
    px, py = ax.transData.transform((x, y))
    cx = min(max(px, bb.x0), bb.x1)
    cy = min(max(py, bb.y0), bb.y1)
    if math.hypot(cx - px, cy - py) > 4.5:
        dx, dy = ax.transData.inverted().transform((cx, cy))
        ax.plot([x, dx], [y, dy], color='#8a8a8a', lw=0.4, zorder=4, clip_on=False)

fig.savefig('out.png', dpi=100)
